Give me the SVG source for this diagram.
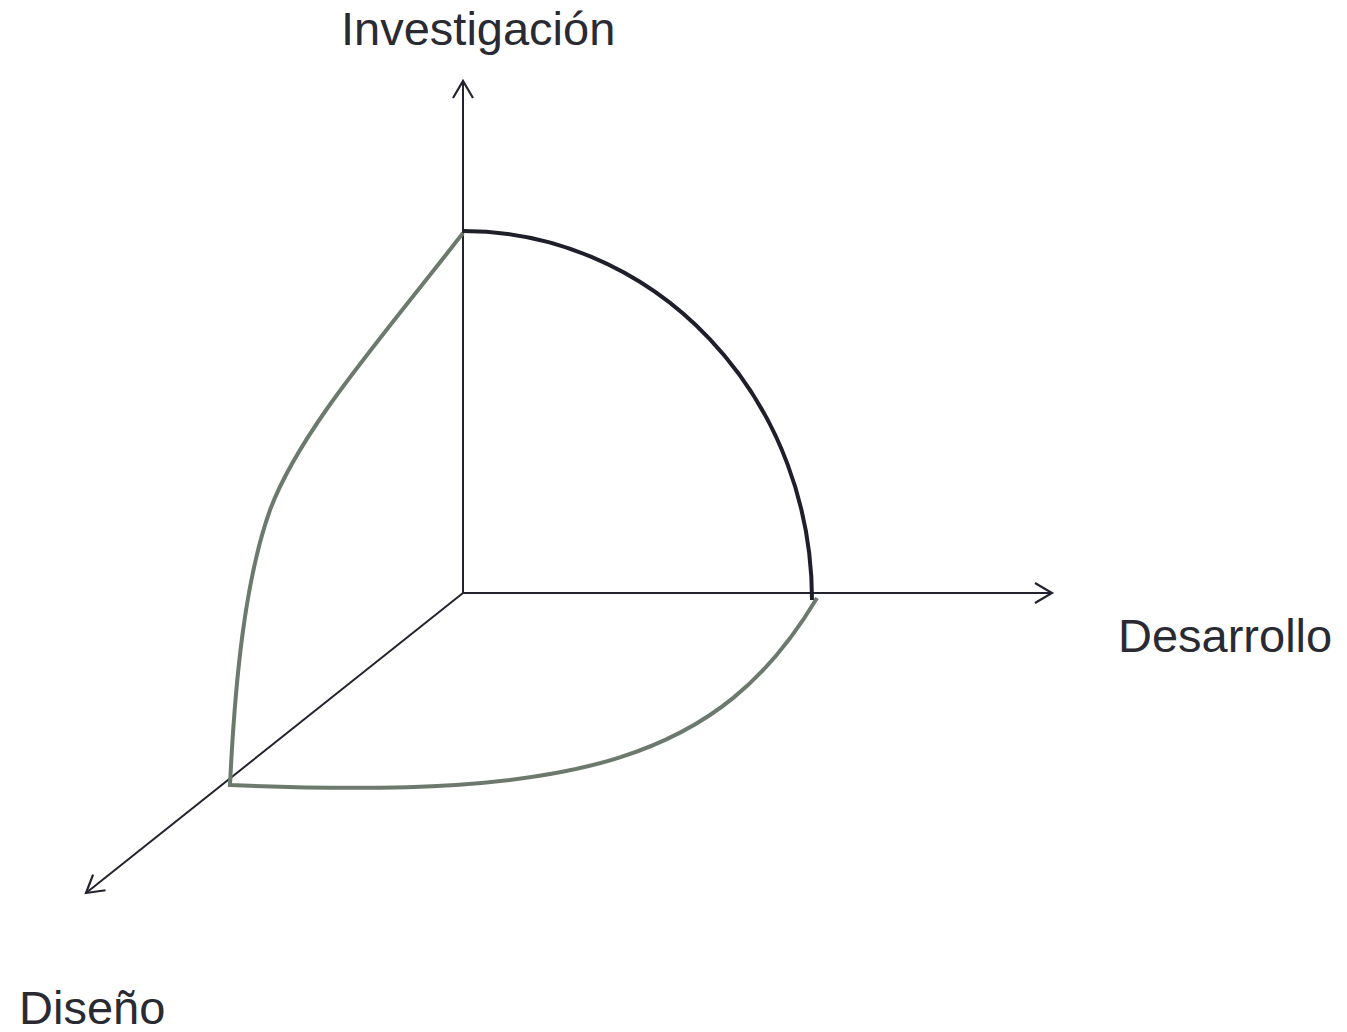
<svg xmlns="http://www.w3.org/2000/svg" width="1347" height="1032" viewBox="0 0 1347 1032">
<style>
.axis{fill:none;stroke:#23232f;stroke-width:2}
.lbl{font-family:"Liberation Sans",Arial,sans-serif;font-size:47px;fill:#2a2a33}
</style>
<defs>
<marker id="arr" markerUnits="userSpaceOnUse" viewBox="-20 -12 22 24" refX="0" refY="0" markerWidth="22" markerHeight="24" orient="auto" overflow="visible">
<path d="M-17,-10 L0,0 L-17,10" fill="none" stroke="#23232f" stroke-width="2.2"/>
</marker>
</defs>
<rect width="1347" height="1032" fill="#fff"/>
<g id="connectors">
<line class="axis" x1="463" y1="594" x2="463" y2="81" marker-end="url(#arr)"/>
<line class="axis" x1="463" y1="593" x2="1052" y2="593" marker-end="url(#arr)"/>
<line class="axis" x1="463" y1="593" x2="86" y2="893" marker-end="url(#arr)"/>
</g>
<g id="curves">
<path d="M463,231 A349,369 0 0 1 812,600" fill="none" stroke="#1f1f2c" stroke-width="4"/>
<path d="M463,233 C380,340 300,430 270,510 C245,580 235,680 230,785 C580,800 720,760 817,598" fill="none" stroke="#6b7a6d" stroke-width="4" stroke-linejoin="miter"/>
</g>
<g id="labels">
<text class="lbl" x="341" y="45">Investigación</text>
<text class="lbl" x="1118" y="652">Desarrollo</text>
<text class="lbl" x="19" y="1024">Diseño</text>
</g>
</svg>
